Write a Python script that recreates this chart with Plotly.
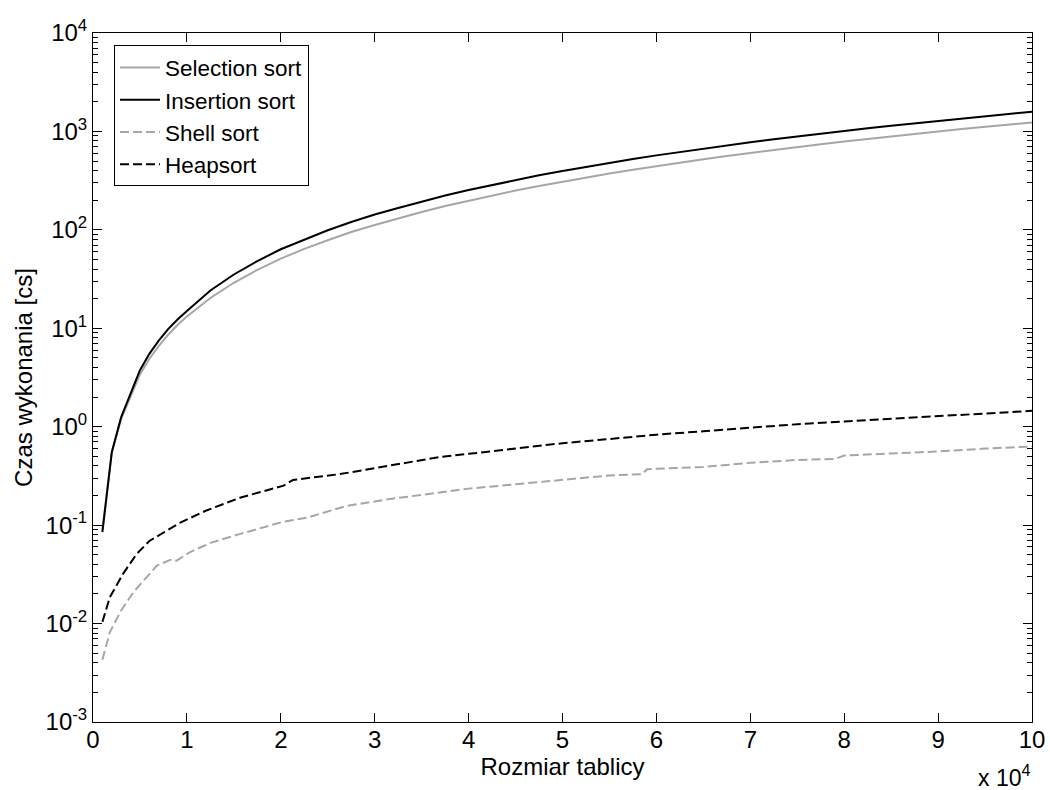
import plotly.graph_objects as go

# ---- data ----
n_quad = [1000, 2000, 3000, 4000, 5000, 6000, 7000, 8000, 9000, 10000,
          12500, 15000, 17500, 20000, 22500, 25000, 27500, 30000, 32500, 35000,
          37500, 40000, 42500, 45000, 47500, 50000, 52500, 55000, 57500, 60000,
          62500, 65000, 67500, 70000, 72500, 75000, 77500, 80000, 82500, 85000,
          87500, 90000, 92500, 95000, 97500, 100000]
selection = [0.09, 0.55, 1.2, 2.05, 3.4, 4.9, 6.6, 8.6, 10.8, 13.2,
             20.3, 29, 39.2, 51, 64, 78.5, 95, 112, 131.5, 152,
             174.5, 198, 223.5, 250.5, 279, 309, 341, 374, 409, 445,
             483, 522, 563, 605, 649, 695, 742, 790, 841, 892,
             946, 1000, 1057, 1115, 1174, 1235]
insertion = [0.085, 0.55, 1.25, 2.2, 3.75, 5.5, 7.5, 9.8, 12.3, 15.0,
             24.2, 35.2, 48.2, 63.5, 80, 99, 120, 143, 167, 194,
             223, 254, 286, 321, 358, 396, 437, 480, 524, 571,
             619, 670, 722, 777, 833, 892, 952, 1014, 1079, 1145,
             1213, 1284, 1356, 1430, 1507, 1585]

n_shell = [1000, 1800, 3000, 4300, 5700, 6800, 8200, 8900, 10300, 12500,
           15600, 17400, 18800, 20200, 22800, 26000, 27000, 31600, 36800,
           40000, 45000, 50000, 55000, 58500, 59000, 65000, 70000, 75000,
           79000, 80000, 85000, 90000, 95000, 100000]
shell = [0.0043, 0.0082, 0.0136, 0.0208, 0.0295, 0.0388, 0.0443, 0.0436, 0.053, 0.066,
         0.081, 0.091, 0.098, 0.108, 0.119, 0.146, 0.157, 0.184, 0.215,
         0.235, 0.26, 0.29, 0.32, 0.33, 0.37, 0.39, 0.43, 0.46,
         0.47, 0.51, 0.53, 0.56, 0.60, 0.63]

n_heap = [1000, 1800, 3200, 4650, 6000, 8200, 9300, 12000, 15650, 20300,
          21300, 26300, 31600, 36800, 40000, 45000, 50000, 55000, 60000,
          65000, 70000, 75000, 80000, 85000, 90000, 95000, 100000]
heap = [0.0104, 0.0186, 0.032, 0.051, 0.069, 0.091, 0.106, 0.14, 0.19, 0.252,
        0.288, 0.33, 0.40, 0.49, 0.53, 0.60, 0.68, 0.75, 0.83,
        0.90, 0.98, 1.06, 1.13, 1.20, 1.28, 1.36, 1.45]

x_ticks = [0, 10000, 20000, 30000, 40000, 50000, 60000, 70000, 80000, 90000, 100000]
x_ticktext = ["0", "1", "2", "3", "4", "5", "6", "7", "8", "9", "10"]
y_exps = [-3, -2, -1, 0, 1, 2, 3, 4]

GRAY = "#a6a6a6"
FONT = "Liberation Sans, Arial, sans-serif"

fig = go.Figure()
fig.add_trace(go.Scatter(x=n_quad, y=selection, mode="lines", name="Selection sort",
                         line=dict(color=GRAY, width=2)))
fig.add_trace(go.Scatter(x=n_quad, y=insertion, mode="lines", name="Insertion sort",
                         line=dict(color="black", width=2)))
fig.add_trace(go.Scatter(x=n_shell, y=shell, mode="lines", name="Shell sort",
                         line=dict(color=GRAY, width=2, dash="9px,4px")))
fig.add_trace(go.Scatter(x=n_heap, y=heap, mode="lines", name="Heapsort",
                         line=dict(color="black", width=2, dash="9px,4px")))

y_major = [10 ** e for e in y_exps]
y_text = ["10<sup>%d</sup>" % e for e in y_exps]
y_minor = [m * 10 ** e for e in y_exps[:-1] for m in range(2, 10)]

fig.update_layout(
    width=1050, height=790,
    margin=dict(l=93, r=18, t=33, b=68),
    paper_bgcolor="white", plot_bgcolor="white",
    font=dict(family=FONT, size=24, color="black"),
    showlegend=True,
    legend=dict(x=0.0224, y=0.982, xanchor="left", yanchor="top",
                bordercolor="black", borderwidth=1, bgcolor="white",
                font=dict(family=FONT, size=22.5, color="black"),
                itemwidth=40, tracegroupgap=0,
                entrywidth=160, entrywidthmode="pixels"),
    xaxis=dict(range=[0, 100000], tickmode="array", tickvals=x_ticks, ticktext=x_ticktext,
               ticks="inside", ticklen=9, tickcolor="black", showline=True, linecolor="black",
               linewidth=1, mirror="ticks", showgrid=False, zeroline=False, automargin=False,
               ticklabelstandoff=-4,
               title=dict(text="Rozmiar tablicy", font=dict(size=24), standoff=0),
               tickfont=dict(size=24)),
    yaxis=dict(type="log", range=[-3, 4], tickmode="array", tickvals=y_major, ticktext=y_text,
               ticks="inside", ticklen=9, tickcolor="black", showline=True, linecolor="black",
               linewidth=1, mirror="ticks", showgrid=False, zeroline=False, automargin=False,
               minor=dict(tickmode="array", tickvals=y_minor, ticks="inside", ticklen=5,
                          tickcolor="black", showgrid=False),
               title=dict(text="Czas wykonania [cs]", font=dict(size=24), standoff=6),
               tickfont=dict(size=24)),
)

fig.add_annotation(text="x 10<sup>4</sup>", xref="paper", yref="paper", x=1.0, y=-0.078,
                   xanchor="right", yanchor="middle", showarrow=False,
                   font=dict(family=FONT, size=23, color="black"))

fig.write_html("out.html")
